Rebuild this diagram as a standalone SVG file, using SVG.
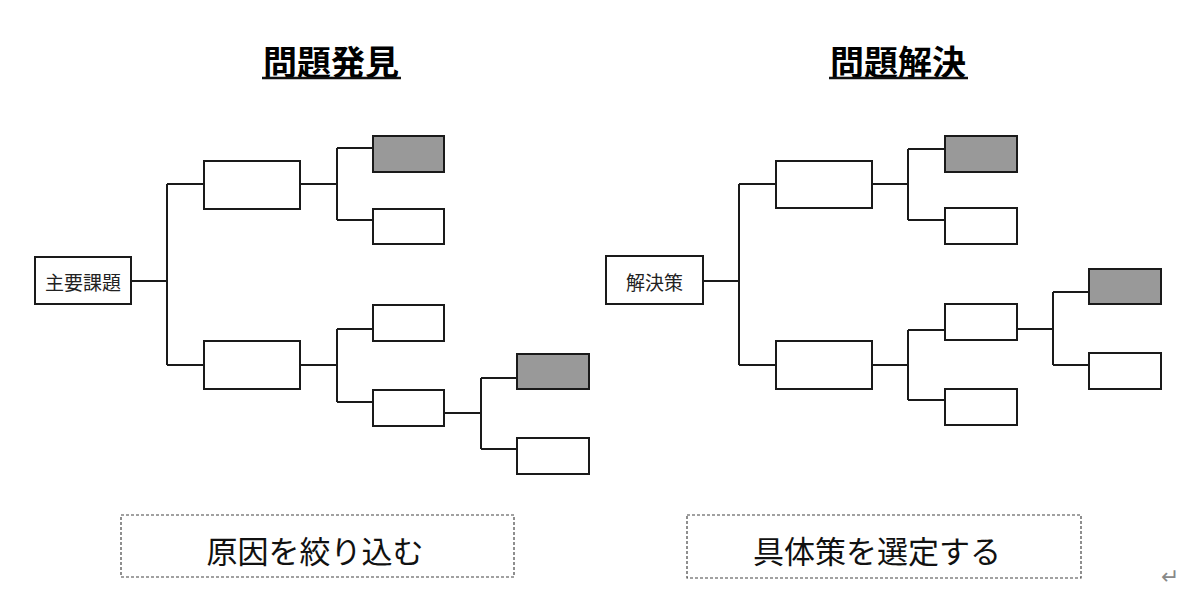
<svg xmlns="http://www.w3.org/2000/svg" width="1200" height="592" viewBox="0 0 1200 592">
<style>
.box{fill:#fff;stroke:#1a1a1a;stroke-width:2}
.hl{fill:#999;stroke:#1a1a1a;stroke-width:2}
.ln{fill:none;stroke:#1a1a1a;stroke-width:2}
.lbl{font-family:"Noto Sans CJK JP","Noto Sans",sans-serif;font-size:19px;fill:#222;text-anchor:middle;dominant-baseline:central}
.ttl{font-family:"Noto Sans CJK JP","Noto Sans",sans-serif;font-size:34px;font-weight:bold;fill:#000;text-anchor:middle;dominant-baseline:central}
.cap{font-family:"Noto Sans CJK JP","Noto Sans",sans-serif;font-size:31px;fill:#111;text-anchor:middle;dominant-baseline:central}
.dash{fill:#fff;stroke:#444;stroke-width:1.2;stroke-dasharray:3 2}
</style>
<rect width="1200" height="592" fill="#fff"/>
<g id="title-left"><text class="ttl" x="331" y="60">問題発見</text><line x1="262" y1="78" x2="401" y2="78" stroke="#111" stroke-width="2.5"/></g>
<g id="title-right"><text class="ttl" x="898" y="60">問題解決</text><line x1="829" y1="78" x2="968" y2="78" stroke="#111" stroke-width="2.5"/></g>
<g id="connectors">
<path class="ln" d="M131 281H167M167 184V365M167 184H204M167 365H204"/>
<path class="ln" d="M300 184H337M337 148V220M337 148H373M337 220H373"/>
<path class="ln" d="M300 365H337M337 329V402M337 329H373M337 402H373"/>
<path class="ln" d="M444 413H481M481 378V449M481 378H517M481 449H517"/>
<path class="ln" d="M703 281H739M739 184V365M739 184H776M739 365H776"/>
<path class="ln" d="M872 184H908M908 149V220M908 149H945M908 220H945"/>
<path class="ln" d="M872 365H908M908 330V400M908 330H945M908 400H945"/>
<path class="ln" d="M1017 329H1053M1053 292V365M1053 292H1089M1053 365H1089"/>
</g>
<g id="n-root-left"><rect class="box" x="35" y="257" width="96" height="47"/><text class="lbl" x="83" y="281">主要課題</text></g>
<g id="n-l1a"><rect class="box" x="204" y="161" width="96" height="48"/></g>
<g id="n-l1b"><rect class="box" x="204" y="341" width="96" height="48"/></g>
<g id="n-l2a"><rect class="hl" x="373" y="136" width="71" height="36"/></g>
<g id="n-l2b"><rect class="box" x="373" y="209" width="71" height="35"/></g>
<g id="n-l2c"><rect class="box" x="373" y="305" width="71" height="36"/></g>
<g id="n-l2d"><rect class="box" x="373" y="390" width="71" height="36"/></g>
<g id="n-l3a"><rect class="hl" x="517" y="354" width="72" height="35"/></g>
<g id="n-l3b"><rect class="box" x="517" y="438" width="72" height="36"/></g>
<g id="n-root-right"><rect class="box" x="606" y="256" width="97" height="48"/><text class="lbl" x="654.5" y="281">解決策</text></g>
<g id="n-r1a"><rect class="box" x="776" y="161" width="96" height="47"/></g>
<g id="n-r1b"><rect class="box" x="776" y="341" width="96" height="48"/></g>
<g id="n-r2a"><rect class="hl" x="945" y="136" width="72" height="36"/></g>
<g id="n-r2b"><rect class="box" x="945" y="208" width="72" height="36"/></g>
<g id="n-r2c"><rect class="box" x="945" y="304" width="72" height="36"/></g>
<g id="n-r2d"><rect class="box" x="945" y="389" width="72" height="36"/></g>
<g id="n-r3a"><rect class="hl" x="1089" y="269" width="72" height="35"/></g>
<g id="n-r3b"><rect class="box" x="1089" y="353" width="72" height="36"/></g>
<g id="cap-left"><rect class="dash" x="121" y="515" width="393" height="62"/><text class="cap" x="315" y="549">原因を絞り込む</text></g>
<g id="cap-right"><rect class="dash" x="687" y="515" width="394" height="63"/><text class="cap" x="877" y="549">具体策を選定する</text></g>
<text x="1170" y="576" font-family="DejaVu Sans,sans-serif" font-size="22" fill="#888" text-anchor="middle" dominant-baseline="central">↵</text>
</svg>
